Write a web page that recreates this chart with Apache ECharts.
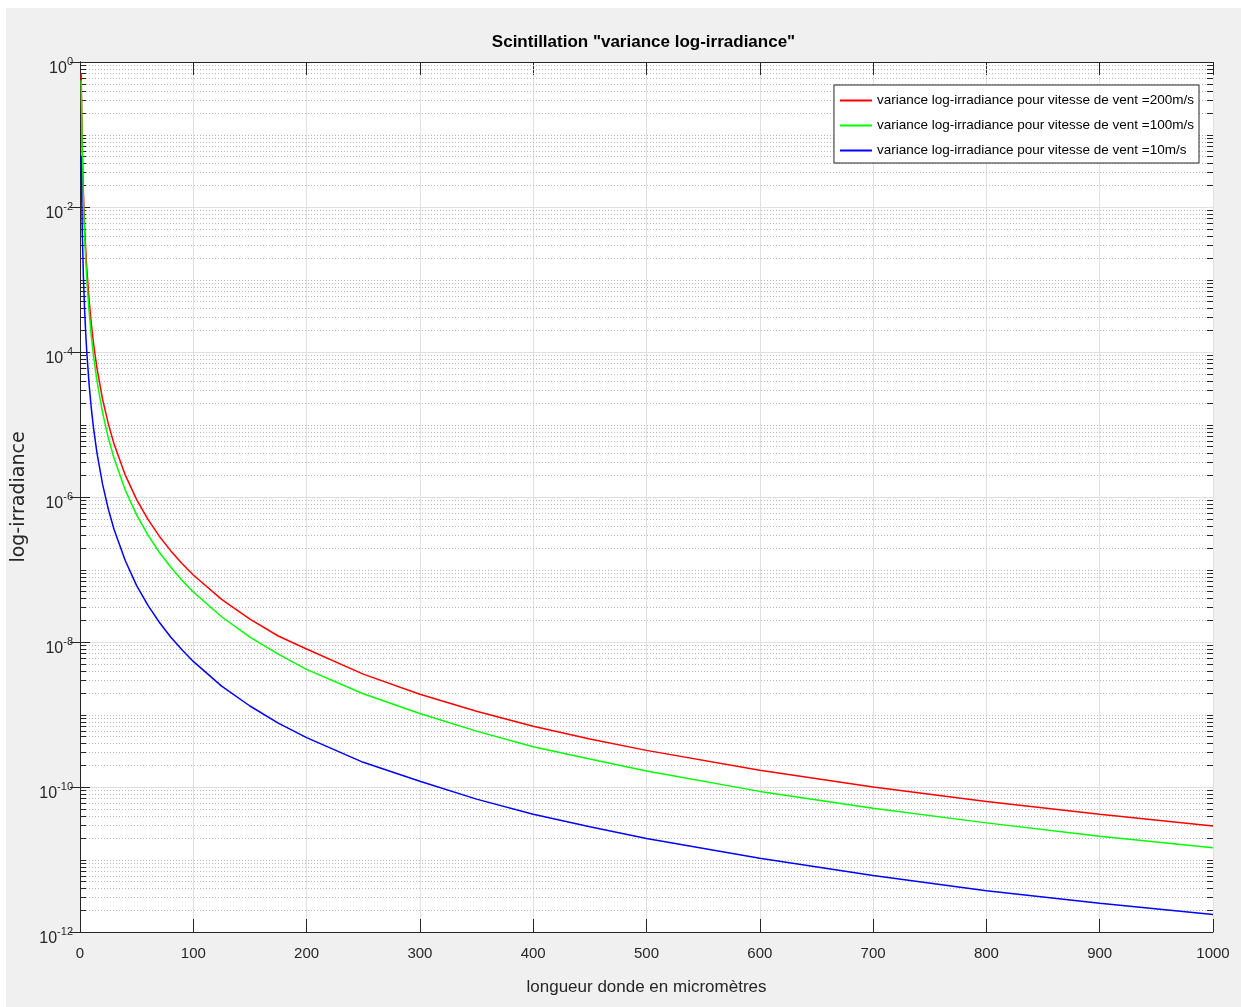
<!DOCTYPE html>
<html>
<head>
<meta charset="utf-8">
<title>Scintillation variance log-irradiance</title>
<script src="https://cdn.jsdelivr.net/npm/echarts@6/dist/echarts.min.js"></script>
<style>
  html, body { margin: 0; padding: 0; background: #ffffff; }
  #chart { position: absolute; left: 6px; top: 8px; width: 1235px; height: 999px; }
</style>
</head>
<body>
<div id="chart"></div>
<script>
// Wavelength (micrometres) at which the variance was sampled
const wavelength = [1, 2, 3, 4, 5, 6, 8, 10, 12, 15, 20, 25, 30, 40, 50, 60, 70, 80, 90, 100,
  125, 150, 175, 200, 250, 300, 350, 400, 450, 500, 600, 700, 800, 900, 1000];

// Log-irradiance variance, wind speed 200 m/s
const variance200 = [7.0e-1, 6.35e-2, 1.56e-2, 5.77e-3, 2.67e-3, 1.42e-3, 5.25e-4, 2.42e-4, 1.29e-4, 5.96e-5,
  2.20e-5, 1.02e-5, 5.42e-6, 2.0e-6, 9.2e-7, 4.92e-7, 2.88e-7, 1.82e-7, 1.21e-7, 8.4e-8,
  3.87e-8, 2.07e-8, 1.21e-8, 8.0e-9, 3.6e-9, 1.9e-9, 1.11e-9, 6.9e-10, 4.6e-10, 3.2e-10,
  1.7e-10, 1.0e-10, 6.3e-11, 4.2e-11, 2.9e-11];

// Log-irradiance variance, wind speed 100 m/s
const variance100 = [5.6e-1, 4.87e-2, 1.16e-2, 4.22e-3, 1.92e-3, 1.01e-3, 3.65e-4, 1.66e-4, 8.7e-5, 3.97e-5,
  1.44e-5, 6.5e-6, 3.44e-6, 1.24e-6, 5.66e-7, 2.98e-7, 1.73e-7, 1.08e-7, 7.1e-8, 4.9e-8,
  2.23e-8, 1.17e-8, 6.8e-9, 4.2e-9, 1.93e-9, 1.03e-9, 5.9e-10, 3.6e-10, 2.43e-10, 1.66e-10,
  8.7e-11, 5.1e-11, 3.2e-11, 2.1e-11, 1.45e-11];

// Log-irradiance variance, wind speed 10 m/s
const variance10 = [5.1e-2, 4.57e-3, 1.11e-3, 4.06e-4, 1.87e-4, 9.9e-5, 3.62e-5, 1.66e-5, 8.8e-6, 4.04e-6,
  1.48e-6, 6.8e-7, 3.59e-7, 1.32e-7, 6.0e-8, 3.2e-8, 1.87e-8, 1.17e-8, 7.8e-9, 5.4e-9,
  2.46e-9, 1.31e-9, 7.6e-10, 4.8e-10, 2.19e-10, 1.2e-10, 6.8e-11, 4.2e-11, 2.83e-11, 1.95e-11,
  1.04e-11, 6.0e-12, 3.7e-12, 2.5e-12, 1.75e-12];

const seriesNames = [
  'variance log-irradiance pour vitesse de vent =200m/s',
  'variance log-irradiance pour vitesse de vent =100m/s',
  'variance log-irradiance pour vitesse de vent =10m/s'
];
const seriesColors = ['#ff0000', '#00ff00', '#0000ff'];

// Axis ranges and tick layout
const xTickValues = [0, 100, 200, 300, 400, 500, 600, 700, 800, 900, 1000];
const yTickExponents = [0, -2, -4, -6, -8, -10, -12];

// Minor log grid: k * 10^n (odd decades are minor lines too)
const minorValues = [];
for (let n = -12; n < 0; n++) {
  for (let k = 1; k <= 9; k++) {
    if (k === 1 && n % 2 === 0) continue;
    minorValues.push(k * Math.pow(10, n));
  }
}

const AX = '#262626';
const FONT = "'Liberation Sans', Arial, sans-serif";

function pairs(ys) { return wavelength.map((x, i) => [x, ys[i]]); }

const chart = echarts.init(document.getElementById('chart'), null, { renderer: 'canvas' });

function curve(i, data) {
  return {
    type: 'line', name: seriesNames[i], data: pairs(data),
    symbol: 'none', smooth: false, z: 3 + i,
    lineStyle: { color: seriesColors[i], width: 1.5 },
    itemStyle: { color: seriesColors[i] }
  };
}

const option = {
  backgroundColor: '#f0f0f0',
  animation: false,
  title: {
    text: 'Scintillation "variance log-irradiance"',
    left: 637.5,
    top: 26,
    textAlign: 'center',
    padding: 0,
    textStyle: { fontFamily: FONT, fontSize: 17, fontWeight: 'bold', color: '#000' }
  },
  legend: {
    data: seriesNames,
    orient: 'vertical',
    right: 42,
    top: 77,
    padding: [8, 5, 5, 6],
    itemGap: 10,
    itemWidth: 32,
    itemHeight: 2,
    icon: 'rect',
    backgroundColor: '#ffffff',
    borderColor: AX,
    borderWidth: 1,
    borderRadius: 0,
    textStyle: { fontFamily: FONT, fontSize: 13.5, lineHeight: 15, color: '#000' }
  },
  grid: {
    left: 74, top: 54, right: 28, bottom: 75,
    outerBoundsMode: 'none',
    containLabel: false,
    show: true, backgroundColor: '#ffffff', borderWidth: 0
  },
  xAxis: [{
    type: 'value',
    position: 'bottom',
    min: xTickValues[0],
    max: xTickValues[xTickValues.length - 1],
    interval: 100,
    name: 'longueur donde en micromètres',
    nameLocation: 'middle',
    nameGap: 47,
    nameTextStyle: { fontFamily: FONT, fontSize: 17, color: AX },
    axisLine: { show: true, onZero: false, lineStyle: { color: AX, width: 1 } },
    axisTick: { show: true, inside: true, length: 13, lineStyle: { color: AX } },
    axisLabel: { fontFamily: FONT, fontSize: 15, color: AX, margin: 14,
      formatter: function (v) { return String(v); } },
    splitLine: { show: true, lineStyle: { color: '#e0e0e0', width: 1 } }
  }, {
    type: 'value',
    position: 'top',
    min: xTickValues[0],
    max: xTickValues[xTickValues.length - 1],
    interval: 100,
    axisLine: { show: true, onZero: false, lineStyle: { color: AX, width: 1 } },
    axisTick: { show: true, inside: true, length: 13, lineStyle: { color: AX } },
    axisLabel: { show: false },
    splitLine: { show: false }
  }],
  yAxis: [{
    type: 'log',
    logBase: 10,
    position: 'left',
    min: Math.pow(10, yTickExponents[yTickExponents.length - 1]),
    max: Math.pow(10, yTickExponents[0]),
    interval: 2,
    splitNumber: 6,
    name: 'log-irradiance',
    nameLocation: 'middle',
    nameGap: 47,
    nameTextStyle: { fontFamily: "'DejaVu Sans', sans-serif", fontSize: 19, color: AX },
    axisLine: { show: true, lineStyle: { color: AX, width: 1 } },
    axisTick: { show: true, inside: true, length: 10, lineStyle: { color: AX } },
    axisLabel: {
      margin: 7,
      padding: [13, 0, 0, 0],
      formatter: function (v) {
        const e = Math.round(Math.log10(v));
        return '{b|10}{s|' + e + '}';
      },
      rich: {
        b: { fontFamily: FONT, fontSize: 16, lineHeight: 24, color: AX },
        s: { fontFamily: FONT, fontSize: 11, lineHeight: 11, verticalAlign: 'top', color: AX }
      }
    },
    splitLine: { show: true, lineStyle: { color: '#e0e0e0', width: 1 } }
  }, {
    type: 'log',
    logBase: 10,
    position: 'right',
    min: Math.pow(10, yTickExponents[yTickExponents.length - 1]),
    max: Math.pow(10, yTickExponents[0]),
    interval: 2,
    splitNumber: 6,
    axisLine: { show: true, lineStyle: { color: AX, width: 1 } },
    axisTick: { show: true, inside: true, length: 10, lineStyle: { color: AX } },
    axisLabel: { show: false },
    splitLine: { show: false }
  }],
  series: [
    {
      type: 'custom',
      name: 'minor',
      silent: true,
      z: 1,
      xAxisIndex: 0,
      yAxisIndex: 0,
      data: minorValues.map(v => [0, v]),
      renderItem: function (params, api) {
        const cs = params.coordSys;
        const y = Math.round(api.coord([0, api.value(1)])[1]) + 0.5;
        return {
          type: 'group',
          children: [
            { type: 'line', shape: { x1: cs.x, y1: y, x2: cs.x + cs.width, y2: y },
              style: { stroke: '#b8b8b8', lineWidth: 1, lineDash: [1, 2] } },
            { type: 'line', shape: { x1: cs.x, y1: y, x2: cs.x + 6, y2: y },
              style: { stroke: AX, lineWidth: 1 } },
            { type: 'line', shape: { x1: cs.x + cs.width - 6, y1: y, x2: cs.x + cs.width, y2: y },
              style: { stroke: AX, lineWidth: 1 } }
          ]
        };
      }
    },
    curve(0, variance200),
    curve(1, variance100),
    curve(2, variance10)
  ]
};

chart.setOption(option);
</script>
</body>
</html>
